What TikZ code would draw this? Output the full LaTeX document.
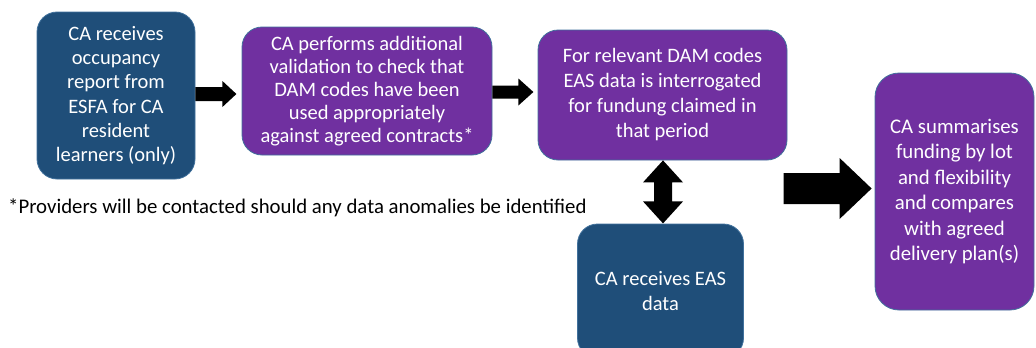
\documentclass[tikz,border=0pt]{standalone}
\usepackage{fontspec}
\setmainfont{Carlito}
\usetikzlibrary{calc}
\definecolor{boxblue}{RGB}{31,78,121}
\definecolor{boxpurple}{RGB}{112,48,160}
\definecolor{edgeblue}{RGB}{65,113,156}
\tikzset{
  procbox/.style={draw=edgeblue, line width=0.8pt, rounded corners=20pt, inner sep=0pt,
    align=center, text=white, font=\fontsize{20.5}{23.5}\selectfont},
  bluebox/.style={procbox, fill=boxblue},
  purplebox/.style={procbox, fill=boxpurple},
  blockarrow/.style={fill=black, draw=none},
  note/.style={font=\fontsize{20.8}{24}\selectfont, text=black, inner sep=0pt, anchor=west}
}
\begin{document}
\begin{tikzpicture}[x=1pt, y=-1pt]
\clip (0,0) rectangle (1036,348);
\fill[white] (0,0) rectangle (1036,348);
% boxes
\node[bluebox, font=\fontsize{20.5}{24.2}\selectfont, minimum width=158pt, minimum height=167pt] (A) at (116,95.5)
  {CA receives\\occupancy\\report from\\ESFA for CA\\resident\\learners (only)};
\node[purplebox, font=\fontsize{20.5}{23}\selectfont, minimum width=250pt, minimum height=128pt] (B) at (367,91)
  {CA performs additional\\validation to check that\\DAM codes have been\\used appropriately\\against agreed contracts*};
\node[purplebox, font=\fontsize{20.5}{25}\selectfont, minimum width=249pt, minimum height=130pt] (C) at (662.5,95)
  {For relevant DAM codes\\EAS data is interrogated\\for fundung claimed in\\that period};
\node[purplebox, font=\fontsize{20.8}{25.4}\selectfont, rounded corners=24pt, minimum width=159pt, minimum height=237pt] (D) at (954.5,191.5)
  {CA summarises\\funding by lot\\and flexibility\\and compares\\with agreed\\delivery plan(s)};
\node[bluebox, font=\fontsize{20.5}{25.5}\selectfont, minimum width=166pt, minimum height=134pt] (E) at (660.5,291)
  {CA receives EAS\\data};
% footnote
\node[note] (N) at (8,208) {*Providers will be contacted should any data anomalies be identified};
% arrow A -> B
\fill[blockarrow] ($(A.east)+(0,-1.5)$) ++(0,-7) -- ++(27,0) -- ++(0,-6) -- ++(14,13)
  -- ++(-14,13) -- ++(0,-6) -- ++(-27,0) -- cycle;
% arrow B -> C
\fill[blockarrow] ($(B.east)+(0,1)$) ++(0,-6.5) -- ++(26,0) -- ++(0,-7) -- ++(15,13.5)
  -- ++(-15,13.5) -- ++(0,-7) -- ++(-26,0) -- cycle;
% big arrow C -> D
\fill[blockarrow] ($(D.west)+(-3,-3)$) -- ++(-32,-30.5) -- ++(0,15) -- ++(-56,0) -- ++(0,31)
  -- ++(56,0) -- ++(0,15) -- cycle;
% double arrow C <-> E
\fill[blockarrow] ($(C.south)+(0.5,0)$) -- ++(20,22) -- ++(-11,0) -- ++(0,19) -- ++(11,0)
  -- ++(-20,22) -- ++(-20,-22) -- ++(11,0) -- ++(0,-19) -- ++(-11,0) -- cycle;
\end{tikzpicture}
\end{document}
